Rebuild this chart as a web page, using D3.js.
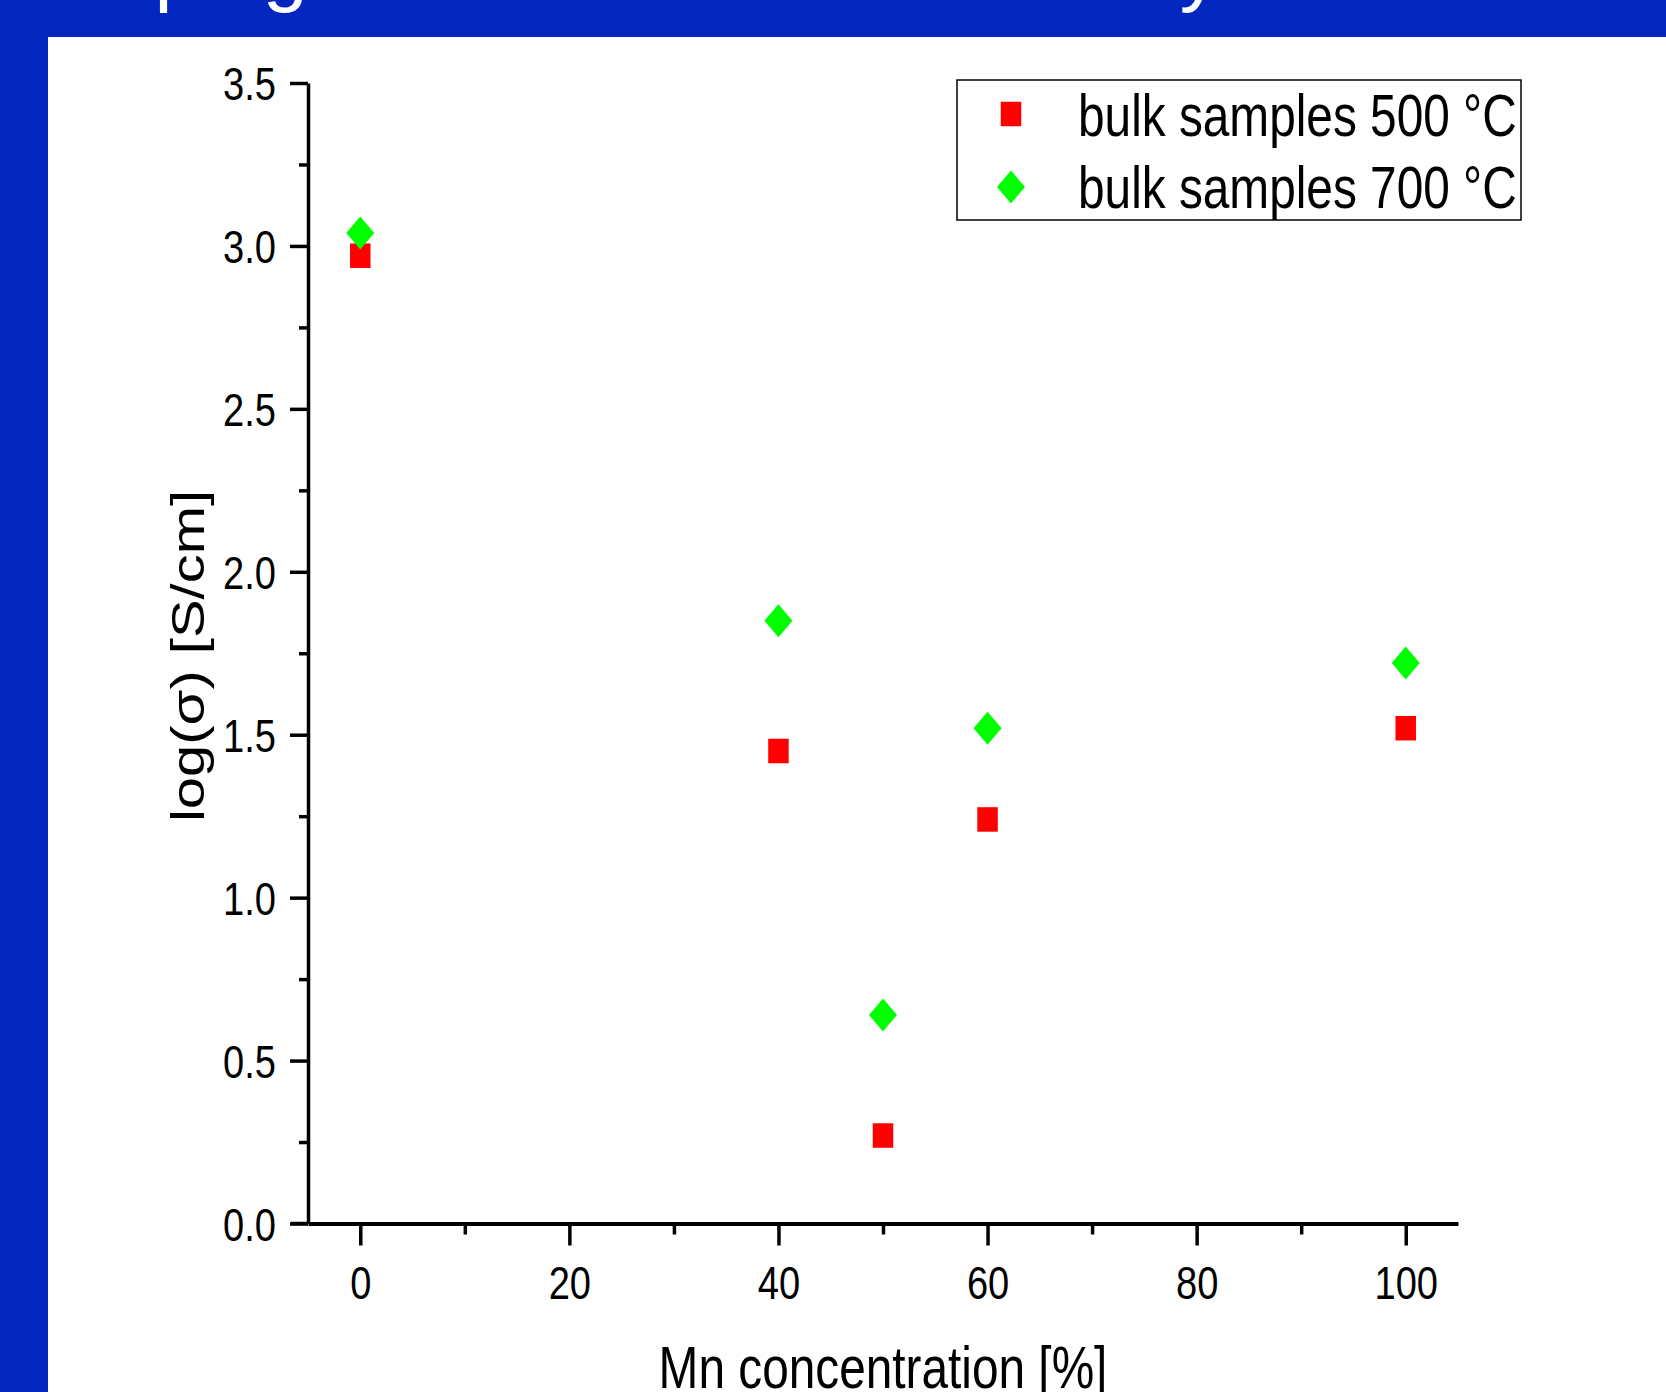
<!DOCTYPE html>
<html>
<head>
<meta charset="utf-8">
<script src="https://cdn.jsdelivr.net/npm/d3@7"></script>
<style>
  html, body { margin: 0; padding: 0; background: #0326BE; }
  svg { display: block; }
  text { font-family: "Liberation Sans", Arial, sans-serif; }
</style>
</head>
<body>
<svg id="chart" width="1666" height="1392"></svg>
<script>
// data
var mnConc = [0, 40, 50, 60, 100];
var bulk500 = [2.97, 1.45, 0.27, 1.24, 1.52];
var bulk700 = [3.04, 1.85, 0.64, 1.52, 1.72];
var seriesNames = ["bulk samples 500 °C", "bulk samples 700 °C"];
var xTicks = [0, 20, 40, 60, 80, 100];
var xMinor = [10, 30, 50, 70, 90];
var yTicks = [0, 0.5, 1.0, 1.5, 2.0, 2.5, 3.0, 3.5];
var yMinor = [0.25, 0.75, 1.25, 1.75, 2.25, 2.75, 3.25];

var squeeze = 0.81; // the original picture is squashed horizontally

var svg = d3.select("#chart");

// blue slide background + white panel
svg.append("rect").attr("x", 0).attr("y", 0).attr("width", 1666).attr("height", 1392).attr("fill", "#0326BE");
svg.append("rect").attr("x", 48).attr("y", 37).attr("width", 1618).attr("height", 1355).attr("fill", "#ffffff");

// slide title, mostly above the visible area
svg.append("text")
    .attr("x", 51).attr("y", -4)
    .attr("font-size", 81)
    .attr("fill", "#ffffff")
    .text("Doping effect on the conductivity");

var xScale = d3.scaleLinear().domain([-5, 105]).range([308, 1458]);
var yScale = d3.scaleLinear().domain([0, 3.5]).range([1223.5, 83]);

var y0 = yScale(0), x0 = xScale(-5);

// x axis
var gx = svg.append("g").attr("transform", "translate(0," + y0 + ")");
gx.call(d3.axisBottom(xScale).tickValues(xTicks).tickSize(22).tickSizeOuter(0).tickPadding(0).tickFormat(d3.format("d")));
gx.append("g").call(d3.axisBottom(xScale).tickValues(xMinor).tickSize(11).tickSizeOuter(0).tickFormat(""))
    .select(".domain").remove();
gx.append("line").attr("x1", 291).attr("x2", x0).attr("y1", 0).attr("y2", 0);
gx.selectAll(".domain, line").attr("stroke", "#000").attr("stroke-width", 3.5);
gx.selectAll(".domain").attr("stroke-width", 4);
gx.selectAll(".tick text")
    .attr("y", 0).attr("dy", 0)
    .attr("transform", "translate(0,75) scale(" + squeeze + ",1)")
    .attr("font-size", 47).attr("fill", "#000");
gx.selectAll("line").attr("stroke", "#000");

// y axis
var gy = svg.append("g").attr("transform", "translate(" + x0 + ",0)");
gy.call(d3.axisLeft(yScale).tickValues(yTicks).tickSize(18).tickSizeOuter(0).tickFormat(d3.format(".1f")));
gy.append("g").call(d3.axisLeft(yScale).tickValues(yMinor).tickSize(9).tickSizeOuter(0).tickFormat(""))
    .select(".domain").remove();
gy.selectAll(".domain, line").attr("stroke", "#000").attr("stroke-width", 3.5);
gy.selectAll(".tick text")
    .attr("x", 0).attr("dy", 0)
    .attr("transform", "translate(-32,16.5) scale(" + squeeze + ",1)")
    .attr("font-size", 47).attr("fill", "#000");

// axis titles
svg.append("text")
    .attr("transform", "translate(883,1388) scale(" + squeeze + ",1)")
    .attr("text-anchor", "middle")
    .attr("font-size", 59)
    .text("Mn concentration [%]");

svg.append("text")
    .attr("transform", "translate(204,656) scale(" + squeeze + ",1) rotate(-90)")
    .attr("text-anchor", "middle")
    .attr("font-size", 58)
    .text("log(σ) [S/cm]");

// markers
var sqW = 20.5, sqH = 24.5, dW = 28, dH = 33;
function diamond(cx, cy) {
    return "M" + cx + "," + (cy - dH / 2) + "L" + (cx + dW / 2) + "," + cy +
        "L" + cx + "," + (cy + dH / 2) + "L" + (cx - dW / 2) + "," + cy + "Z";
}

svg.append("g").selectAll("rect")
    .data(mnConc)
    .enter().append("rect")
    .attr("x", function(d) { return xScale(d) - sqW / 2; })
    .attr("y", function(d, i) { return yScale(bulk500[i]) - sqH / 2; })
    .attr("width", sqW).attr("height", sqH)
    .attr("fill", "#ff0000");

svg.append("g").selectAll("path")
    .data(mnConc)
    .enter().append("path")
    .attr("d", function(d, i) { return diamond(xScale(d), yScale(bulk700[i])); })
    .attr("fill", "#00ff00");

// legend
var lg = svg.append("g");
lg.append("rect").attr("x", 957).attr("y", 80).attr("width", 564).attr("height", 140)
    .attr("fill", "#fff").attr("stroke", "#000").attr("stroke-width", 1.5);
lg.append("rect").attr("x", 1011 - sqW / 2).attr("y", 114 - sqH / 2)
    .attr("width", sqW).attr("height", sqH).attr("fill", "#ff0000");
lg.append("path").attr("d", diamond(1011, 187)).attr("fill", "#00ff00");
lg.selectAll("text.lbl")
    .data(seriesNames)
    .enter().append("text")
    .attr("class", "lbl")
    .attr("transform", function(d, i) { return "translate(1078," + (136 + i * 72) + ") scale(" + squeeze + ",1)"; })
    .attr("font-size", 59)
    .text(function(d) { return d; });
</script>
</body>
</html>
